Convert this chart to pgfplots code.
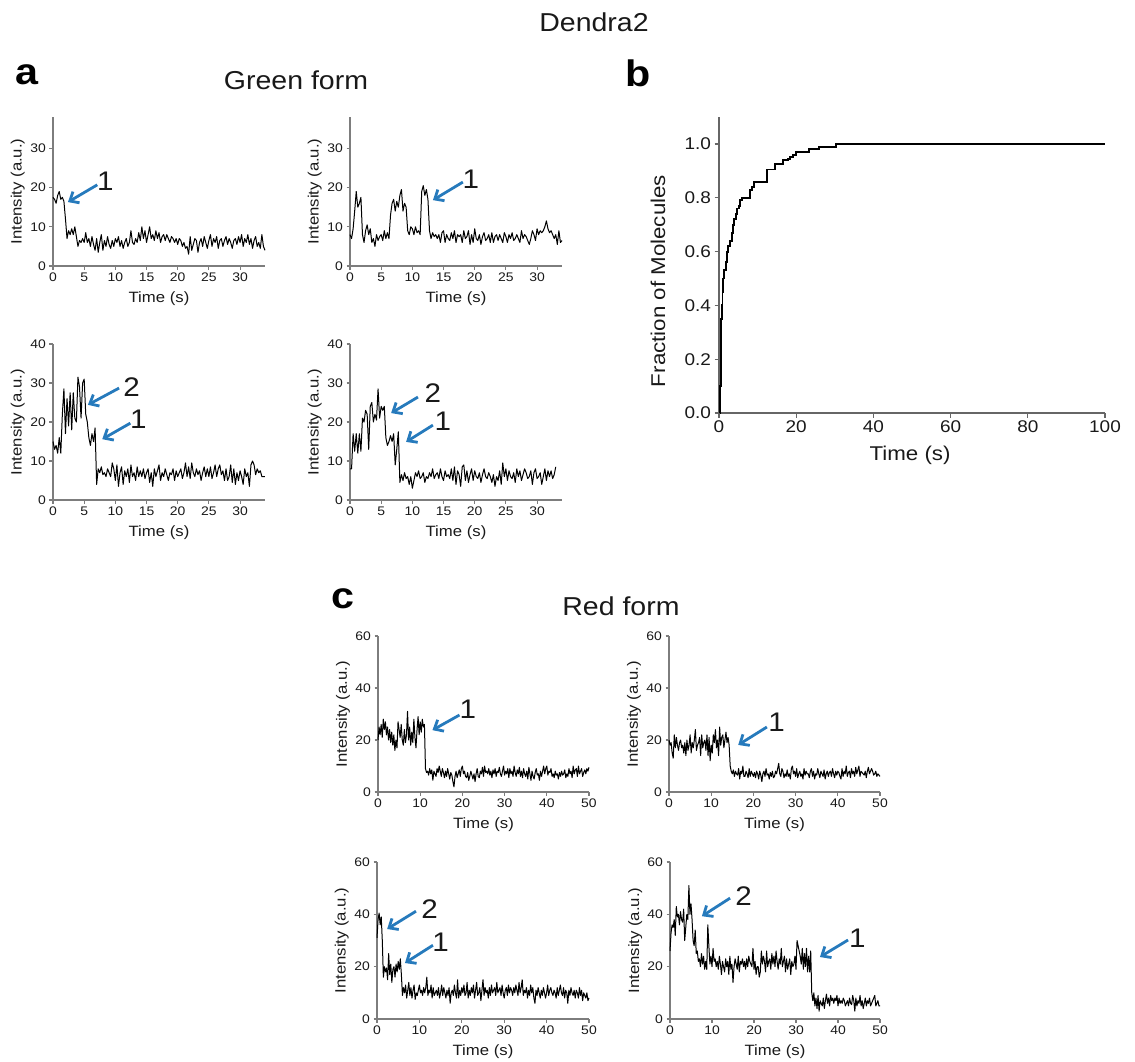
\documentclass[border=0pt]{standalone}
\usepackage{pgfplots}
\pgfplotsset{compat=1.18}
\usepackage{fontspec}
\setmainfont{Liberation Sans}[FakeStretch=1.12]
\newfontfamily\titlefont{Liberation Sans}[FakeStretch=1.1]
\usetikzlibrary{arrows.meta}
\definecolor{arrblue}{RGB}{38,122,188}
\definecolor{axgray}{RGB}{125,125,125}
\definecolor{txt}{RGB}{25,25,25}
\tikzset{
  arr/.style={draw=arrblue, line width=2.8bp, -{Straight Barb[length=7.5bp,width=13bp,line width=2.8bp]}},
  num/.style={font=\titlefont\fontsize{27}{27}\selectfont, text=txt, inner sep=0pt},
}
\pgfplotsset{
  base/.style={scale only axis, axis x line*=bottom, axis y line*=left,
    tick align=outside, axis line style={axgray, line width=1.1bp},
    every tick/.style={axgray, line width=1.1bp}, major tick length=3.5bp,
    /pgf/number format/assume math mode=true, clip=false,
    xmin=0, ymin=0},
  trace/.style={base,
    tick label style={font=\fontsize{12.5}{14}\selectfont, text=txt},
    label style={font=\fontsize{15}{17}\selectfont, text=txt},
    xlabel={Time (s)}, ylabel={Intensity (a.u.)},
    xlabel style={at={(axis description cs:0.5,0)}, anchor=center, yshift=-33bp},
    ylabel style={at={(axis description cs:-0.166,0.5)}, anchor=center}},
  green/.style={trace, width=212bp, xmax=34, xtick={0,5,...,30}},
  red/.style={trace, width=211bp, xmax=50, xtick={0,10,...,50}, ymax=60, height=156bp, ytick={0,20,40,60}},
  tl/.style={black, line width=1bp, line join=round},
}
\begin{document}
\begin{tikzpicture}
\useasboundingbox (0,0) rectangle (1135bp,-1062bp);
\node[font=\titlefont\fontsize{26}{26}\selectfont, text=txt] at (594bp,-22bp) {Dendra2};
\node[font=\bfseries\fontsize{37}{37}\selectfont, text=black] at (27bp,-75bp) {a};
\node[font=\titlefont\fontsize{26}{26}\selectfont, text=txt] at (296bp,-80bp) {Green form};
\node[font=\bfseries\fontsize{37}{37}\selectfont, text=black] at (638bp,-73bp) {b};
\node[font=\bfseries\fontsize{37}{37}\selectfont, text=black] at (343bp,-599bp) {c};
\node[font=\titlefont\fontsize{26}{26}\selectfont, text=txt] at (621bp,-606bp) {Red form};

% ---------- a: top left
\begin{axis}[green, at={(53bp,-266bp)}, anchor=south west, height=149bp, ymax=38, ytick={0,10,20,30}]
\addplot[tl] table[header=false, row sep=\\, x expr=\coordindex*0.25, y index=0]{
17.5\\17\\16\\18\\ 19\\17\\17.5\\16.5\\ 12\\7\\9\\8\\ 9.5\\8\\10\\7.5\\ 5\\6.5\\6\\7\\
6\\8.5\\6\\7\\ 5\\7.5\\5.5\\4\\ 7\\3.5\\6\\8\\ 4\\6.5\\5\\7.5\\ 5.5\\4.5\\6.5\\5\\
7\\6\\7.5\\5\\ 6.5\\4.5\\6\\7\\ 5\\6\\9\\6\\ 5.5\\7\\6\\8.5\\ 6.5\\10\\7\\9\\
6\\8\\10\\7\\ 8\\6.5\\9\\7\\ 8.5\\6\\7.5\\8\\ 6.5\\8\\7\\6\\ 7.5\\7\\6\\7\\
5.5\\7\\6.5\\5\\ 6\\4.5\\5\\3\\ 7.5\\4\\5.5\\7\\ 6.5\\3.5\\6\\7\\ 5\\7.5\\6\\4.5\\
6.5\\8\\5\\7\\ 6\\7.5\\4.5\\6.5\\ 7\\5\\6.5\\7.5\\ 5.5\\7\\6\\4.5\\ 6.5\\7\\5.5\\7.5\\
6\\8\\5\\7\\ 6\\8\\5.5\\7\\ 4.5\\6.5\\7.5\\5\\ 6\\4.5\\8\\5\\ 4\\
};
\draw[arr] (axis cs:7.1,20.7) -- (axis cs:2.4,16.3);
\node[num] at (axis cs:8.4,21.7) {1};
\end{axis}

% ---------- a: top right
\begin{axis}[green, at={(350bp,-266bp)}, anchor=south west, height=149bp, ymax=38, ytick={0,10,20,30}]
\addplot[tl] table[header=false, row sep=\\, x expr=\coordindex*0.25, y index=0]{
8\\7\\9.5\\14\\ 19\\15\\16\\17.5\\ 8\\6\\9\\10.5\\ 8\\9.5\\6\\7\\ 5\\8\\6.5\\7.5\\
8\\6.5\\9\\7\\ 8.5\\7\\13\\16\\ 17\\14\\16.5\\15\\ 18\\19.5\\14\\16\\ 15\\9\\8\\10\\
9.5\\8\\10\\8.5\\ 9\\8\\19\\20.5\\ 18\\19.5\\17\\9\\ 7\\8.5\\7.5\\8\\ 7\\8\\6\\8.5\\
9\\6\\8\\7\\ 6.5\\8.5\\7\\9\\ 6\\8\\7.5\\8\\ 6\\9\\7\\7.5\\ 9\\5.5\\8\\6\\
9.5\\7\\6.5\\8\\ 5.5\\7.5\\8.5\\6.5\\ 7\\8\\6\\8.5\\ 6\\7.5\\8\\6.5\\ 8\\7\\6\\8.5\\
7.5\\6\\8\\7\\ 8.5\\6.5\\7\\8\\ 7\\6\\9\\7\\ 8\\7.5\\6.5\\5.5\\ 7\\9\\8\\6.5\\
9.5\\8\\9\\8.5\\ 9\\10\\11.5\\9.5\\ 8.5\\9\\8\\7\\ 8\\5.5\\9\\6\\ 6.5\\
};
\draw[arr] (axis cs:18.1,21.4) -- (axis cs:13.3,16.8);
\node[num] at (axis cs:19.4,22) {1};
\end{axis}

% ---------- a: bottom left
\begin{axis}[green, at={(53bp,-500bp)}, anchor=south west, height=156bp, ymax=40, ytick={0,10,20,30,40}]
\addplot[tl] table[header=false, row sep=\\, x expr=\coordindex*0.25, y index=0]{
15\\13\\14\\12\\ 16\\12\\22\\28.5\\ 17\\26\\19\\27.5\\ 18\\27.5\\21\\20\\ 31.5\\29\\21\\30\\
31\\22\\20\\16\\ 14\\17\\15\\18.5\\ 4\\8\\7\\8.5\\ 6.5\\7\\6\\8\\ 7\\6\\9.5\\8\\
5\\9\\3.5\\7\\ 8.5\\4\\7.5\\6\\ 8\\4.5\\9\\6\\ 7\\5\\8.5\\6\\ 7.5\\6\\8\\5.5\\
7\\8\\4.5\\7\\ 3.5\\8\\6\\7.5\\ 9\\5\\7\\6\\ 8\\6.5\\5\\7\\ 6.5\\8\\5\\7.5\\
6\\7\\8\\5.5\\ 7\\9.5\\6\\8.5\\ 5.5\\9.5\\7\\6\\ 8\\6.5\\7.5\\5\\ 7\\8.5\\6\\8\\
6\\8.5\\5.5\\7\\ 9\\6\\8\\9\\ 6.5\\7.5\\5\\8\\ 5\\6\\9\\4.5\\ 8\\4\\7\\5\\
7.5\\6\\4\\8\\ 6\\7\\3.5\\9\\ 10\\9\\6.5\\8\\ 7\\7.5\\6\\6\\ 6\\
};
\draw[arr] (axis cs:10.6,28.7) -- (axis cs:5.6,24.4);
\node[num] at (axis cs:12.6,29.0) {2};
\draw[arr] (axis cs:12.4,19.7) -- (axis cs:7.9,15.6);
\node[num] at (axis cs:13.7,20.8) {1};
\end{axis}

% ---------- a: bottom right
\begin{axis}[green, at={(350bp,-500bp)}, anchor=south west, height=156bp, ymax=40, ytick={0,10,20,30,40}]
\addplot[tl] table[header=false, row sep=\\, x expr=\coordindex*0.25, y index=0]{
8\\8\\17\\12.5\\ 17\\12\\17\\12.5\\ 21\\20\\23\\22\\ 13\\24\\25\\20\\ 22\\20.5\\28.5\\21\\
24\\23\\24\\16\\ 14\\15\\16.5\\15\\ 17\\9\\13\\17.5\\ 4.5\\6.5\\5\\7\\ 5.5\\6\\4\\6\\
3\\5\\7\\6\\ 7.5\\5.5\\6\\7\\ 4.5\\6\\5.5\\7\\ 6\\8\\5.5\\6.5\\ 7\\5.5\\8\\6\\
5\\7.5\\6\\6.5\\ 5.5\\8\\5\\8.5\\ 4\\7.5\\6.5\\3.5\\ 8.5\\9\\5\\7.5\\ 4.5\\6.5\\8\\5\\
7.5\\6\\5.5\\7\\ 4.5\\6.5\\8\\6\\ 5.5\\7\\6\\4.5\\ 6.5\\3.5\\6\\5\\ 7.5\\4\\9.5\\6\\
8\\5\\7.5\\6\\ 5.5\\7\\4.5\\8\\ 6\\7.5\\5\\6.5\\ 8\\7\\5.5\\6\\ 7.5\\4\\7\\8\\
5.5\\6\\7\\4\\ 6\\8\\5\\7.5\\ 6\\7.5\\5.5\\6.5\\ 8.5\\
};
\draw[arr] (axis cs:10.9,26.4) -- (axis cs:6.6,22.3);
\node[num] at (axis cs:13.3,27.4) {2};
\draw[arr] (axis cs:13.3,19.2) -- (axis cs:9.0,14.9);
\node[num] at (axis cs:14.9,20.3) {1};
\end{axis}

% ---------- b
\begin{axis}[base, at={(719bp,-413bp)}, anchor=south west, width=386bp, height=296bp,
  xmax=100, ymax=1.1, xtick={0,20,...,100}, ytick={0,0.2,...,1.0},
  yticklabel style={/pgf/number format/.cd, fixed, fixed zerofill, precision=1},
  tick label style={font=\fontsize{17}{19}\selectfont, text=txt},
  label style={font=\fontsize{20}{22}\selectfont, text=txt},
  axis line style={black!60, line width=1.2bp}, every tick/.style={black!60, line width=1.2bp},
  major tick length=4.5bp,
  xlabel={Time (s)}, ylabel={Fraction of Molecules},
  xlabel style={at={(axis description cs:0.495,-0.142)}, anchor=center},
  ylabel style={at={(axis description cs:-0.158,0.446)}, anchor=center}]
\addplot[const plot, black, line width=1.9bp] coordinates {
(0.3,0) (0.35,0.1) (0.4,0.2) (0.5,0.3) (0.6,0.35) (0.7,0.4) (0.9,0.45) (1.1,0.5)
(1.4,0.53) (1.7,0.56) (2.0,0.6) (2.3,0.62) (2.8,0.64) (3.3,0.67) (3.6,0.70)
(3.9,0.72) (4.3,0.74) (4.7,0.76) (5.1,0.77) (5.5,0.79) (5.9,0.80) (8.0,0.83)
(8.6,0.84) (9.0,0.86) (12.4,0.905) (14.4,0.925) (16.6,0.94) (17.8,0.945)
(18.5,0.95) (19.1,0.96) (20.0,0.97) (23.4,0.98) (25.9,0.99) (30.2,1.0) (100,1.0)
};
\end{axis}

% ---------- c: top left
\begin{axis}[red, at={(378bp,-792bp)}, anchor=south west]
\addplot[tl] table[header=false, row sep=\\, x expr=\coordindex*0.25, y index=0]{
20\\25\\22\\26\\ 21\\28\\24\\27\\ 22\\25\\20\\24\\ 19\\23\\18\\22\\ 16\\20\\17\\27\\
24\\21\\26\\20\\ 18\\24\\19\\22\\ 31\\20\\25\\18\\ 23\\19\\28\\21\\ 17\\24\\29\\22\\
27\\23\\28\\25\\ 26\\9\\7.5\\8\\ 6.5\\9\\7\\8.5\\ 4.5\\8\\7\\6\\ 9\\7.5\\10\\8\\
6\\9\\7.5\\5.5\\ 8\\6\\9\\7\\ 5\\7.5\\6.5\\4\\ 2\\6\\8\\5.5\\ 7\\8.5\\6\\9\\
10\\7\\8\\6\\ 5.5\\7.5\\4.5\\6\\ 8\\6.5\\5\\7\\ 4\\7\\9\\6\\ 5.5\\8\\7\\9.5\\
6\\10\\7.5\\8\\ 7\\9\\6.5\\8\\ 5.5\\8.5\\7\\9\\ 6\\8\\7.5\\9.5\\ 7\\6\\8\\10\\
6.5\\8\\7\\9\\ 5.5\\9\\7\\8\\ 6\\10\\7.5\\6\\ 8.5\\7\\9.5\\6\\ 8\\5.5\\9\\7\\
6\\8\\5\\9.5\\ 7\\4.5\\8\\6\\ 5\\7.5\\9\\6.5\\ 7\\4.5\\8\\6\\ 8\\10\\7\\9\\
10\\6.5\\8\\7.5\\ 9\\6\\7\\5.5\\ 8\\6.5\\7\\5\\ 7.5\\6\\8\\6.5\\ 7\\8.5\\5.5\\7\\
6\\9\\7\\8\\ 5.5\\10\\7\\8.5\\ 9\\6\\10\\7\\ 8\\9\\6\\7.5\\ 8.5\\7\\9\\8\\ 9.5\\
};
\draw[arr] (axis cs:19.3,29.6) -- (axis cs:12.9,23.8);
\node[num] at (axis cs:21.3,31.9) {1};
\end{axis}

% ---------- c: top right
\begin{axis}[red, at={(669bp,-792bp)}, anchor=south west]
\addplot[tl] table[header=false, row sep=\\, x expr=\coordindex*0.25, y index=0]{
20\\18\\19\\15\\ 13\\22\\17\\21\\ 18\\16\\19\\20\\ 17\\18\\15\\19\\ 14\\20\\16\\18\\
22\\15\\19\\17\\ 20\\24\\16\\18\\ 19\\21\\14\\22\\ 17\\19\\20\\16\\ 22\\14\\21\\12\\
18\\15\\22\\19\\ 24\\17\\20\\14\\ 25\\18\\21\\22\\ 17\\20\\23\\19\\ 21\\18\\10\\8\\
7\\8.5\\6\\8\\ 7\\6.5\\9\\5\\ 8\\7\\10\\6\\ 6\\8\\7\\5.5\\ 9\\6\\8\\7\\
6\\7.5\\5.5\\8\\ 7\\5\\8\\6.5\\ 4\\7\\8\\6\\ 9\\6.5\\7\\5\\ 7.5\\6\\8\\5.5\\
6\\8\\7\\9\\ 11\\7\\6\\9\\ 8\\5.5\\7\\6\\ 8.5\\6\\7\\5\\ 9\\10\\7\\8\\
6\\9\\5.5\\7\\ 8\\6\\7\\5\\ 9\\6.5\\8\\7\\ 7\\5.5\\8\\9\\ 6\\8\\5\\7\\
6.5\\9\\7\\5.5\\ 8\\7\\6\\8.5\\ 5\\7\\8\\6\\ 7.5\\8\\6\\9\\ 7\\5.5\\8\\6.5\\
8\\7.5\\6\\5\\ 9\\6\\8\\7\\ 10\\6\\7.5\\8\\ 5.5\\9\\7\\8\\ 6\\9.5\\7\\8.5\\
10\\6\\8\\7.5\\ 7\\6.5\\8\\5.5\\ 8\\9.5\\7\\8\\ 9\\8\\6.5\\7\\ 8\\6\\7\\6.5\\ 6\\
};
\draw[arr] (axis cs:23.2,25.0) -- (axis cs:16.4,18.1);
\node[num] at (axis cs:25.5,26.9) {1};
\end{axis}

% ---------- c: bottom left
\begin{axis}[red, at={(377bp,-1019bp)}, anchor=south west, width=212bp, height=157bp]
\addplot[tl] table[header=false, row sep=\\, x expr=\coordindex*0.25, y index=0]{
31\\38\\40.5\\36\\ 39\\30\\16\\20\\ 18\\19.5\\15\\25\\ 17\\21\\14\\19\\ 20\\16\\21\\18\\
22\\19\\23\\17\\ 9\\12\\10\\13\\ 8\\11\\14\\9\\ 12\\8\\11\\13\\ 7.5\\10\\9\\11\\
13\\10\\11\\9\\ 12\\10\\12\\16\\ 9\\11\\10\\13\\ 8\\12\\9\\10\\ 11\\9\\12\\8\\
10\\13\\9\\12\\ 10\\8\\11\\9\\ 12\\6\\10\\11\\ 9\\13\\10\\8\\ 15\\8\\11\\9\\
12\\10\\13\\9\\ 10\\14\\8\\11\\ 9\\12\\10\\13\\ 8\\11\\14\\9\\ 10\\12\\7\\11\\
15\\9\\12\\10\\ 11\\8\\12\\9\\ 13\\10\\11\\12\\ 9\\14\\10\\11\\ 12\\9\\13\\10\\
8\\11\\12\\9\\ 13\\10\\12\\11\\ 9\\12\\10\\13\\ 11\\9\\14\\10\\ 12\\15\\9\\11\\
10\\12\\8\\11\\ 9\\13\\10\\12\\ 8\\6\\11\\9\\ 12\\10\\8\\11\\ 9\\12\\10\\8\\
10\\13\\9\\11\\ 12\\10\\9\\11\\ 10\\8\\12\\9\\ 11\\13\\10\\9\\ 12\\8\\11\\10\\
6\\11\\9\\12\\ 10\\9\\11\\8\\ 11\\10\\8\\12\\ 9\\11\\7\\10\\ 9\\8\\10\\7\\ 8\\
};
\draw[arr] (axis cs:9.2,41.2) -- (axis cs:2.4,34.4);
\node[num] at (axis cs:12.4,42.0) {2};
\draw[arr] (axis cs:13.2,28.2) -- (axis cs:6.6,21.4);
\node[num] at (axis cs:15.0,29.4) {1};
\end{axis}

% ---------- c: bottom right
\begin{axis}[red, at={(670bp,-1019bp)}, anchor=south west, width=210bp, height=157bp]
\addplot[tl] table[header=false, row sep=\\, x expr=\coordindex*0.25, y index=0]{
26\\33\\36\\35\\ 38\\32\\43\\39\\ 40\\36\\41\\38\\ 37\\42\\30\\35\\ 40\\38\\51\\40\\
44\\38\\30\\28\\ 34\\25\\26\\22\\ 23\\20\\25\\21\\ 24\\19\\22\\19\\ 36\\28\\21\\24\\
20\\27\\22\\23\\ 20\\22\\19\\24\\ 21\\17\\22\\20\\ 18\\23\\20\\22\\ 17\\24\\19\\21\\
14\\20\\23\\21\\ 19\\24\\18\\22\\ 21\\23\\20\\22\\ 19\\23\\20\\24\\ 22\\21\\20\\27\\
19\\22\\17\\20\\ 20\\16\\18\\26\\ 21\\24\\22\\18\\ 26\\20\\22\\23\\ 19\\25\\21\\24\\
20\\26\\22\\19\\ 23\\21\\27\\20\\ 22\\24\\18\\23\\ 19\\21\\23\\17\\ 22\\20\\21\\24\\
19\\30\\28\\26\\ 24\\21\\27\\19\\ 25\\20\\27\\18\\ 24\\18\\26\\10\\ 7\\10\\5\\8\\
4\\9\\3\\7\\ 6\\5\\8\\4\\ 7\\9.5\\6\\8\\ 5\\9\\7\\8\\ 6\\8\\7\\9\\
5\\8\\6\\7\\ 6\\8\\7\\5\\ 6\\7\\5\\8\\ 6\\5.5\\9\\7\\ 3\\8\\5\\7\\
6\\9\\5\\7\\ 4\\6\\8\\5\\ 7\\6\\8\\5\\ 6\\7\\8\\9\\ 5\\6\\7\\5\\ 5\\
};
\draw[arr] (axis cs:14.3,46.2) -- (axis cs:7.6,39.3);
\node[num] at (axis cs:17.5,46.9) {2};
\draw[arr] (axis cs:42.4,30.2) -- (axis cs:35.7,23.7);
\node[num] at (axis cs:44.6,30.9) {1};
\end{axis}
\end{tikzpicture}
\end{document}
